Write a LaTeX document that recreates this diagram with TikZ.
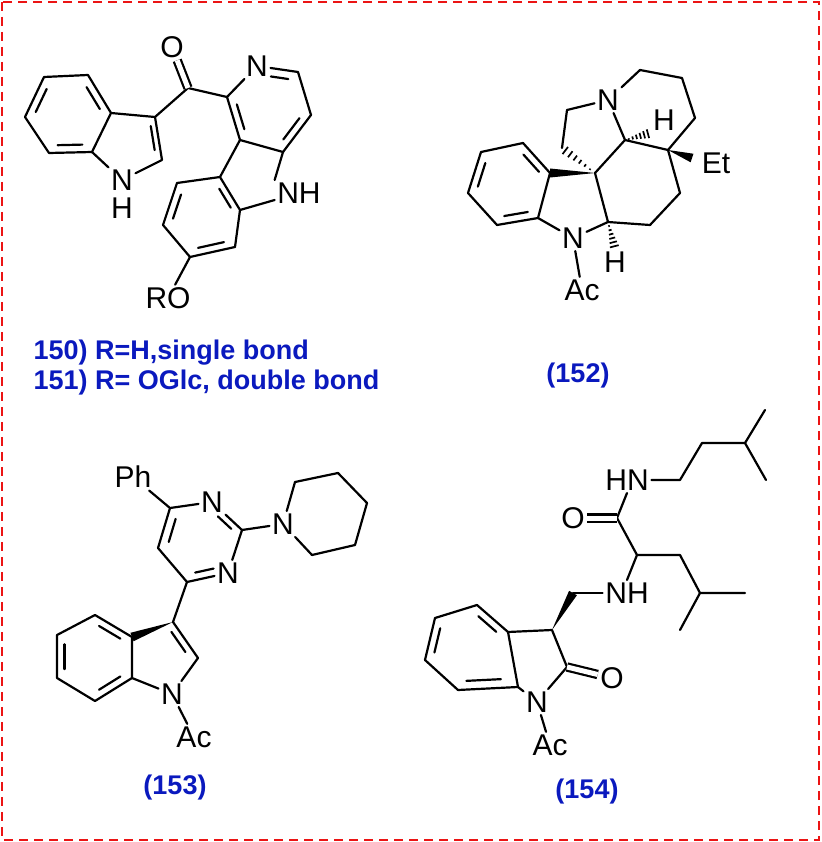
\documentclass[tikz,border=0pt]{standalone}
\usepackage{fontspec}
\setmainfont{Liberation Sans}
\usetikzlibrary{calc}
\definecolor{lblue}{RGB}{10,25,190}
\definecolor{bred}{RGB}{235,20,20}
\tikzset{
 bond/.style={line width=2.2pt,line cap=round,line join=round},
 atom/.style={inner sep=2.5pt,font=\fontsize{30}{30}\selectfont},
 cpd/.style={text=lblue,font=\fontsize{27}{27}\selectfont\bfseries},
 dbl/.style={bond,double,double distance=5pt,line cap=butt}
}
\newcommand\inb[3]{\draw[bond] ($($(#1)!0.14!(#2)$)!0.2!(#3)$) -- ($($(#1)!0.86!(#2)$)!0.2!(#3)$);}
\newcommand\inbx[5]{\draw[bond] ($($(#1)!#4!(#2)$)!0.2!(#3)$) -- ($($(#1)!#5!(#2)$)!0.2!(#3)$);}
\newcommand\wdg[2]{\fill (#1) -- ($(#2)!4.5pt!90:(#1)$) -- ($(#2)!4.5pt!-90:(#1)$) -- cycle;}
\newcommand\hashb[2]{\foreach \t in {0.15,0.3,...,0.95}{\draw[line width=1.7pt] ($($(#1)!\t!(#2)$)!{\t*5pt}!90:(#2)$) -- ($($(#1)!\t!(#2)$)!{\t*5pt}!-90:(#2)$);}}
\begin{document}
\begin{tikzpicture}[x=1pt,y=-1pt]
\useasboundingbox (0,0) rectangle (821,842);
\draw[bred,line width=2pt,dash pattern=on 9pt off 6pt] (2,2) rectangle (819,840);
%% 150/151
\foreach \n/\p in {a1/{44,77},a2/{88,75},a3/{111,113},a4/{92,152},a5/{49,153},a6/{25,117},a7/{155,117},a8/{162,160},a9/{188,88},a10/{227,97},a11/{298,72},a12/{311,115},a13/{283,152},a14/{240,140},a15/{240,210},a16/{220,177},a17/{177,183},a18/{163,225},a19/{190,257},a20/{235,247}}
 \coordinate (\n) at (\p);
\node[atom] (aN) at (122,180) {N};
\node[atom,inner sep=0pt] (aH) at (122,208) {H};
\node[atom] (aO) at (172,47) {O};
\node[atom] (aN2) at (257,66) {N};
\node[atom] (aNH) at (299,193) {NH};
\node[atom] (aRO) at (168,298) {RO};
\coordinate (ac1) at ($(a1)!0.5!(a4)$);
\coordinate (ac2) at (131,145);
\coordinate (ac3) at (269,110);
\coordinate (ac4) at ($(a16)!0.5!(a19)$);
\draw[bond] (a1)--(a2)--(a3)--(a4)--(a5)--(a6)--cycle;
\draw[bond] (a3)--(a7)--(a8)--(aN)--(a4);
\draw[bond] (a7)--(a9)--(a10)--(aN2)--(a11)--(a12)--(a13)--(a14)--(a10);
\draw[dbl] (a9)--(aO);
\draw[bond] (a13)--(aNH.north west);
\draw[bond] (aNH)--(a15)--(a16)--(a14);
\draw[bond] (a16)--(a17)--(a18)--(a19)--(a20)--(a15);
\draw[bond] (a19)--(aRO);
\inb{a2}{a3}{ac1}\inb{a4}{a5}{ac1}\inb{a6}{a1}{ac1}
\inbx{a7}{a8}{ac2}{0.1}{0.8}
\inb{a10}{a14}{ac3}\inbx{aN2}{a11}{ac3}{0.35}{0.88}\inb{a12}{a13}{ac3}
\inb{a16}{a15}{ac4}\inb{a17}{a18}{ac4}\inb{a19}{a20}{ac4}
\node[cpd,anchor=west] (l150) at (30,353) {150) R=H,single bond};
\node[cpd,anchor=west] (l151) at (30,383) {151) R= OGlc, double bond};
%% 152
\foreach \n/\p in {b1/{523,143},b2/{481,152},b3/{468,193},b4/{497,225},b5/{538,218},b6/{550,173},bC7/{595,173},bC2/{608,222},b8/{562,148},b9/{567,110},b10/{625,140},b11/{640,70},b12/{682,78},b13/{695,118},b14/{668,150},b15/{680,193},b16/{650,225},bEw/{692,158}}
 \coordinate (\n) at (\p);
\node[atom] (bN1) at (573,238) {N};
\node[atom] (bN4) at (608,100) {N};
\node[atom] (bH1) at (664,120) {H};
\node[atom] (bEt) at (716,163) {Et};
\node[atom] (bH2) at (615,262) {H};
\node[atom] (bAc) at (582,290) {Ac};
\coordinate (bc1) at ($(b1)!0.5!(b4)$);
\draw[bond] (b1)--(b2)--(b3)--(b4)--(b5)--(b6)--cycle;
\draw[bond] (b5)--(bN1)--(bC2)--(bC7);
\wdg{bC7}{b6}
\hashb{bC7}{b8}
\draw[bond] (b8)--(b9)--(bN4)--(b10)--(bC7);
\draw[bond] (bN4)--(b11)--(b12)--(b13)--(b14)--(b10);
\draw[bond] (b14)--(b15)--(b16)--(bC2);
\hashb{b10}{bH1.south west}
\wdg{b14}{bEw}
\hashb{bC2}{bH2.north}
\draw[bond] (bN1)--(bAc);
\inb{b6}{b1}{bc1}\inb{b2}{b3}{bc1}\inb{b4}{b5}{bc1}
\node[cpd] (l152) at (578,376) {(152)};
%% 153
\foreach \n/\p in {c1/{170,508},c2/{242,530},c3/{187,582},c4/{158,548},p1/{295,482},p2/{338,473},p3/{367,503},p4/{355,545},p5/{312,555},c5/{173,622},c6/{198,658},c7a/{132,678},c3a/{132,637},c8/{95,615},c9/{57,635},c10/{57,678},c11/{95,701}}
 \coordinate (\n) at (\p);
\node[atom] (cPh) at (133,477) {Ph};
\node[atom] (cN1) at (212,502) {N};
\node[atom] (cN3) at (228,573) {N};
\node[atom] (cNp) at (283,524) {N};
\node[atom] (cN) at (172,694) {N};
\node[atom] (cAc) at (194,737) {Ac};
\coordinate (cc1) at (205,540);
\coordinate (cc2) at (155,657);
\coordinate (cc3) at ($(c3a)!0.5!(c10)$);
\draw[bond] (cPh)--(c1)--(cN1)--(c2)--(cN3)--(c3)--(c4)--(c1);
\draw[bond] (c2)--(cNp)--(p1)--(p2)--(p3)--(p4)--(p5)--(cNp);
\draw[bond] (c3)--(c5)--(c6)--(cN)--(c7a)--(c3a);
\wdg{c5}{c3a}
\draw[bond] (c3a)--(c8)--(c9)--(c10)--(c11)--(c7a);
\draw[bond] (cN)--(cAc);
\inb{c4}{c1}{cc1}\inbx{cN1}{c2}{cc1}{0.3}{0.86}\inbx{c3}{cN3}{cc1}{0.14}{0.7}
\inbx{c5}{c6}{cc2}{0.1}{0.8}
\inb{c3a}{c8}{cc3}\inb{c9}{c10}{cc3}\inb{c11}{c7a}{cc3}
\node[cpd] (l153) at (175,788) {(153)};
%% 154
\foreach \n/\p in {d1/{680,480},d2/{702,443},d3/{745,443},d4/{765,410},d5/{766,480},dC/{617,518},dCa/{637,555},d6/{680,555},d7/{700,593},d8/{745,593},d9/{680,630},d10/{573,593},d11/{552,630},d12/{567,667},d13/{518,687},d14/{508,632},d15/{477,605},d16/{435,618},d17/{425,660},d18/{458,690}}
 \coordinate (\n) at (\p);
\node[atom] (dHN) at (627,480) {HN};
\node[atom] (dO) at (573,518) {O};
\node[atom] (dNH) at (627,593) {NH};
\node[atom] (dO2) at (612,678) {O};
\node[atom] (dN) at (537,702) {N};
\node[atom] (dAc) at (550,745) {Ac};
\coordinate (dc1) at ($(d14)!0.5!(d17)$);
\draw[bond] (dHN)--(d1)--(d2)--(d3)--(d4);
\draw[bond] (d3)--(d5);
\draw[bond] (dHN.south)--(dC)--(dCa)--(d6)--(d7)--(d8);
\draw[bond] (d7)--(d9);
\draw[dbl] (dC)--(dO);
\draw[bond] (dCa)--(dNH.north);
\draw[bond] (dNH)--(d10);
\wdg{d11}{d10}
\draw[bond] (d11)--(d12)--(dN)--(d13)--(d14)--(d11);
\draw[dbl] (d12)--(dO2);
\draw[bond] (d14)--(d15)--(d16)--(d17)--(d18)--(d13);
\draw[bond] (dN)--(dAc);
\inb{d14}{d15}{dc1}\inb{d16}{d17}{dc1}\inb{d18}{d13}{dc1}
\node[cpd] (l154) at (587,792) {(154)};
\end{tikzpicture}
\end{document}
